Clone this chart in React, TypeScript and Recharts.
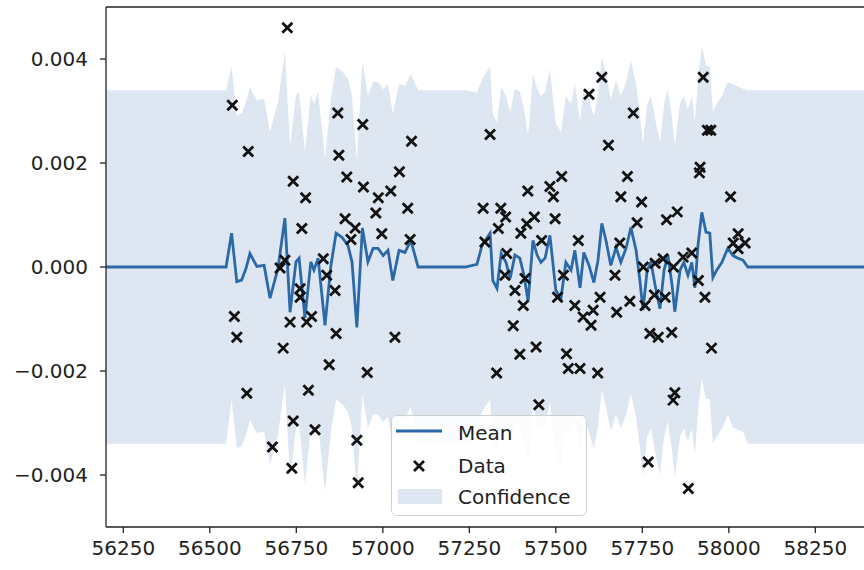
import { ComposedChart, Area, Line, Scatter, XAxis, YAxis, Legend, ReferenceLine } from 'recharts';

const FONT = '"DejaVu Sans", sans-serif';
const MEAN_COLOR = '#2c69a8';
const BAND_COLOR = '#dee7f1';

// prediction grid, posterior mean and 2-sigma spread
const gridX = [
  56200, 56547, 56563, 56578, 56592, 56605, 56616, 56636, 56657, 56674, 56697, 56717, 56732, 56749,
  56758, 56775, 56792, 56801, 56813, 56833, 56850, 56865, 56882, 56899, 56911, 56925, 56941, 56957,
  56972, 56986, 57001, 57015, 57029, 57047, 57064, 57081, 57102,
  57238, 57272, 57287, 57310, 57318, 57330, 57342, 57356, 57368, 57382, 57396, 57408, 57420, 57434,
  57446, 57457, 57469, 57483, 57500, 57515, 57529, 57544, 57555, 57570, 57581, 57596, 57610, 57622,
  57633, 57645, 57659, 57674, 57688, 57703, 57717, 57732, 57743, 57752, 57764, 57775, 57787, 57801,
  57813, 57824, 57836, 57844, 57859, 57870, 57882, 57893, 57902, 57911, 57922, 57934, 57945, 57954,
  57965, 57980, 57997, 58012, 58026, 58041, 58055, 58397,
];
const meanY = [
  0, 0, 0.00065, -0.00028, -0.00025, -0.00002, 0.00026, 0.00001, 0.00003, -0.0006, -0.00003, 0.00094, -0.00087, 0.0001,
  0.00017, -0.00098, 0.0001, -0.00006, 0.00017, -0.00112, 0.00003, 0.00065, 0.00057, 0.00042, 0.0001, -0.00116, 0.00075, 0.0001,
  0.00036, 0.00036, 0.00022, 0.00032, -0.00026, 0.00032, 0.00028, 0.00051, 0,
  0, 0.00005, 0.00042, 0.00065, -0.00026, -0.00041, 0.00026, 0.00009, -0.00022, 0.00023, 0.00017, -0.00016, -0.00066, 0.00051,
  0.00023, 0.00009, 0.00017, 0.00061, -0.00045, -0.0006, 0.00009, -0.00006, 0.00032, -0.0004, 0.00028, 0.00003, -0.0003, 0.00013,
  0.00084, 0.00051, 0.00003, 0.00038, 0.00009, 0.00036, 0.00076, 0.00032, -0.00026, -0.00083, -0.00006, 0.00009, -0.00035, -0.0008,
  -0.00006, 0.00023, -0.00035, -0.00086, -0.00006, 0.00009, -0.00016, 0.00009, -0.0004, 0.00042, 0.00105, 0.00067, 0.00065, -0.0002,
  -0.00006, 0.00009, 0.00036, 0.00022, 0.00017, 0.00013, 0, 0,
];
const spreadY = [
  0.0034, 0.0034, 0.0032, 0.0032, 0.0032, 0.0032, 0.0032, 0.0032, 0.0032, 0.0032, 0.0032, 0.0032, 0.0032, 0.0032,
  0.0032, 0.0032, 0.0032, 0.0032, 0.0032, 0.0032, 0.0032, 0.0032, 0.0032, 0.0032, 0.0032, 0.0032, 0.0032, 0.0032,
  0.0032, 0.0032, 0.0032, 0.0032, 0.0032, 0.0032, 0.0032, 0.0032, 0.0034,
  0.0034, 0.0033, 0.0032, 0.0032, 0.0032, 0.0032, 0.0032, 0.0032, 0.0032, 0.0032, 0.0032, 0.0032, 0.0032, 0.0032,
  0.0032, 0.0032, 0.0032, 0.0032, 0.0032, 0.0032, 0.0032, 0.0032, 0.0032, 0.0032, 0.0032, 0.0032, 0.0032, 0.0032,
  0.0032, 0.0032, 0.0032, 0.0032, 0.0032, 0.0032, 0.0032, 0.0032, 0.0032, 0.0032, 0.0032, 0.0032, 0.0032, 0.0032,
  0.0032, 0.0032, 0.0032, 0.0032, 0.0032, 0.0032, 0.0032, 0.0032, 0.0032, 0.0032, 0.0032, 0.0032, 0.0032, 0.0032,
  0.0032, 0.0032, 0.0032, 0.0033, 0.0033, 0.0033, 0.0034, 0.0034,
];

// observations
const obsX = [
  56724, 56565, 56611, 56870, 56942, 57083, 56873, 56741, 56777, 56896, 57048, 56944, 56987, 57023,
  56980, 57072, 56766, 56891, 56920, 56908, 56997, 57079, 56717, 56703, 56828, 56838, 56761, 56761,
  56862, 56571, 56578, 56732, 56780, 56794, 56712, 56865, 57035, 56845, 56955, 56607, 56785, 56741,
  56804, 56925, 56681, 56737, 56929,
  57310, 57633, 57596, 57724, 57652, 57926, 57938, 57948, 57917, 57915, 57517, 57483, 57493, 57419,
  57707, 57688, 57748, 58005, 57290, 57341, 57355, 57438, 57498, 57416, 57334, 57399, 57459, 57565,
  57735, 57820, 57851, 58027, 58013, 58047, 58027, 57295, 57685, 57358, 57787, 57810, 57868, 57893,
  57753, 57840, 57353, 57411, 57382, 57406, 57377, 57396, 57443, 57329, 57451, 57505, 57555, 57579,
  57608, 57602, 57628, 57671, 57676, 57714, 57758, 57785, 57816, 57531, 57536, 57570, 57621, 57772,
  57796, 57835, 57912, 57931, 57950, 57844, 57839, 57767, 57883, 57522,
];
const obsY = [
  0.0046, 0.00311, 0.00222, 0.00296, 0.00274, 0.00242, 0.00215, 0.00165, 0.00133, 0.00173, 0.00183, 0.00154, 0.00133, 0.00146,
  0.00104, 0.00113, 0.00074, 0.00093, 0.00075, 0.00053, 0.00064, 0.00053, 0.00013, -0.00002, 0.00016, -0.00016, -0.00042, -0.00058,
  -0.00045, -0.00095, -0.00135, -0.00106, -0.00106, -0.00095, -0.00156, -0.00128, -0.00135, -0.00188, -0.00203, -0.00243, -0.00237, -0.00296,
  -0.00313, -0.00333, -0.00346, -0.00387, -0.00415,
  0.00255, 0.00365, 0.00332, 0.00296, 0.00234, 0.00365, 0.00263, 0.00263, 0.00192, 0.00181, 0.00174, 0.00155, 0.00135, 0.00146,
  0.00174, 0.00135, 0.00125, 0.00135, 0.00113, 0.00113, 0.00096, 0.00096, 0.00093, 0.00083, 0.00074, 0.00065, 0.00051, 0.00051,
  0.00085, 0.00091, 0.00106, 0.00064, 0.00046, 0.00046, 0.00035, 0.00048, 0.00046, 0.00026, 0.00007, 0.00016, 0.00019, 0.00027,
  0, 0, -0.00016, -0.00022, -0.00045, -0.00074, -0.00113, -0.00168, -0.00154, -0.00204, -0.00265, -0.00058, -0.00074, -0.00096,
  -0.00083, -0.00112, -0.00058, -0.00016, -0.00087, -0.00066, -0.00074, -0.00054, -0.00058, -0.00167, -0.00195, -0.00195, -0.00204, -0.00128,
  -0.00135, -0.00126, -0.00026, -0.00058, -0.00156, -0.00242, -0.00256, -0.00375, -0.00426, -0.00016,
];

const xTicks = [56250, 56500, 56750, 57000, 57250, 57500, 57750, 58000, 58250];
const yTicks = [-0.004, -0.002, 0, 0.002, 0.004];

const curve = gridX.map((x, i) => ({
  x,
  mean: meanY[i],
  band: [meanY[i] - spreadY[i], meanY[i] + spreadY[i]],
}));
const points = obsX.map((x, i) => ({ x, y: obsY[i] }));

const fmtY = (v: number) => v.toFixed(3).replace('-', '\u2212');

const Cross = (props: any) => {
  const { cx, cy } = props;
  const r = 5;
  return (
    <path
      d={`M${cx - r},${cy - r}L${cx + r},${cy + r}M${cx - r},${cy + r}L${cx + r},${cy - r}`}
      stroke="#111"
      strokeWidth={2.8}
      fill="none"
    />
  );
};

const LegendBox = () => (
  <svg width={196} height={101} style={{ display: 'block' }}>
    <rect x={0.5} y={0.5} width={195} height={100} rx={5} fill="rgba(255,255,255,0.85)" stroke="#d0d0d0" />
    <line x1={5} x2={51} y1={16} y2={16} stroke={MEAN_COLOR} strokeWidth={2.8} />
    <Cross cx={28} cy={51} />
    <rect x={7} y={74} width={44} height={15} fill={BAND_COLOR} />
    <g fontFamily={FONT} fontSize={20} fill="#222">
      <text x={67} y={25}>Mean</text>
      <text x={67} y={58}>Data</text>
      <text x={67} y={89}>Confidence</text>
    </g>
  </svg>
);

export default function App() {
  return (
    <div style={{ position: 'absolute', left: 0, top: 0, width: 864, height: 570, overflow: 'hidden', background: '#fff' }}>
      <ComposedChart width={880} height={570} data={curve} margin={{ top: 7, right: 14, bottom: 3, left: 0 }}>
        <XAxis
          type="number"
          dataKey="x"
          domain={[56200, 58396.5]}
          allowDataOverflow
          ticks={xTicks}
          interval={0}
          height={40}
          tickSize={6}
          tickMargin={8}
          stroke="#222"
          axisLine={{ stroke: '#222', strokeWidth: 1.3 }}
          tickLine={{ stroke: '#222', strokeWidth: 1.3 }}
          tick={{ fill: '#222', fontSize: 20, fontFamily: FONT }}
        />
        <YAxis
          type="number"
          domain={[-0.005, 0.005]}
          allowDataOverflow
          ticks={yTicks}
          interval={0}
          width={106}
          tickSize={6}
          tickMargin={12}
          tickFormatter={fmtY}
          stroke="#222"
          axisLine={{ stroke: '#222', strokeWidth: 1.3 }}
          tickLine={{ stroke: '#222', strokeWidth: 1.3 }}
          tick={{ fill: '#222', fontSize: 20, fontFamily: FONT }}
        />
        <Area
          type="linear"
          dataKey="band"
          fill={BAND_COLOR}
          fillOpacity={1}
          stroke="none"
          isAnimationActive={false}
        />
        <Line
          type="linear"
          dataKey="mean"
          stroke={MEAN_COLOR}
          strokeWidth={2.8}
          dot={false}
          isAnimationActive={false}
        />
        <Scatter data={points} dataKey="y" shape={Cross} isAnimationActive={false} />
        <ReferenceLine y={0.005} stroke="#222" strokeWidth={1.3} />
        <Legend
          layout="vertical"
          align="center"
          verticalAlign="middle"
          content={() => <LegendBox />}
          wrapperStyle={{ left: 391, top: 415, width: 196, height: 101, bottom: 'auto' }}
        />
      </ComposedChart>
    </div>
  );
}
